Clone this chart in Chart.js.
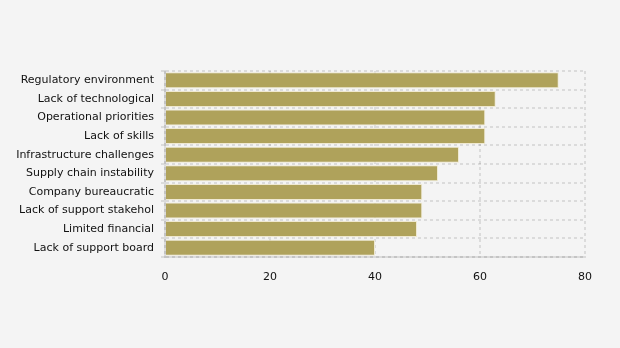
<!DOCTYPE html>
<html><head><meta charset="utf-8">
<script src="https://cdn.jsdelivr.net/npm/chart.js@4"></script>
<style>html,body{margin:0;padding:0;background:#f4f4f4;}#wrap{width:620px;height:348px;}</style>
</head><body><div id="wrap"><canvas id="c" width="620" height="348"></canvas></div>
<script>
const categories = ["Regulatory environment","Lack of technological","Operational priorities","Lack of skills","Infrastructure challenges","Supply chain instability","Company bureaucratic","Lack of support stakehol","Limited financial","Lack of support board"];
const values = [75, 63, 61, 61, 56, 52, 49, 49, 48, 40];
const xTicks = [0, 20, 40, 60, 80];

const gridCol = 'rgba(0,0,0,0.1)';
const bg = {id:'bg',beforeDraw(c){const x=c.ctx;x.save();x.fillStyle='#f4f4f4';x.fillRect(0,0,c.width,c.height);x.restore();}};
new Chart(document.getElementById('c'), {
  type: 'bar',
  data: { labels: categories, datasets: [{ data: values, backgroundColor: '#afa25b', borderColor: '#efe9d2', borderWidth: 1, barPercentage: 0.86, categoryPercentage: 1 }] },
  options: {
    indexAxis: 'y', responsive: false, animation: false,
    layout: { padding: { top: 71, right: 35, left: 0, bottom: 0 } },
    plugins: { legend: { display: false }, tooltip: { enabled: false } },
    scales: {
      x: {
        min: 0, max: 80, z: 1,
        afterBuildTicks(s){ s.ticks = xTicks.map(v=>({value:v})); },
        afterFit(s){ s.height = 91; },
        grid: { color: gridCol, lineWidth: 2, drawTicks: false, tickLength: 0 },
        border: { display: true, color: gridCol, width: 2, dash: [3,3] },
        ticks: { color: '#111', font: { family: 'DejaVu Sans', size: 11 }, padding: 14, maxRotation: 0 }
      },
      y: {
        z: 1,
        afterFit(s){ s.width = 165; },
        grid: { offset: true, color: gridCol, lineWidth: 2, tickLength: 4, tickColor: gridCol },
        border: { display: true, color: gridCol, width: 2, dash: [3,3] },
        ticks: { color: '#111', font: { family: 'DejaVu Sans', size: 11 }, padding: 7, autoSkip: false }
      }
    }
  },
  plugins: [bg]
});
</script></body></html>
